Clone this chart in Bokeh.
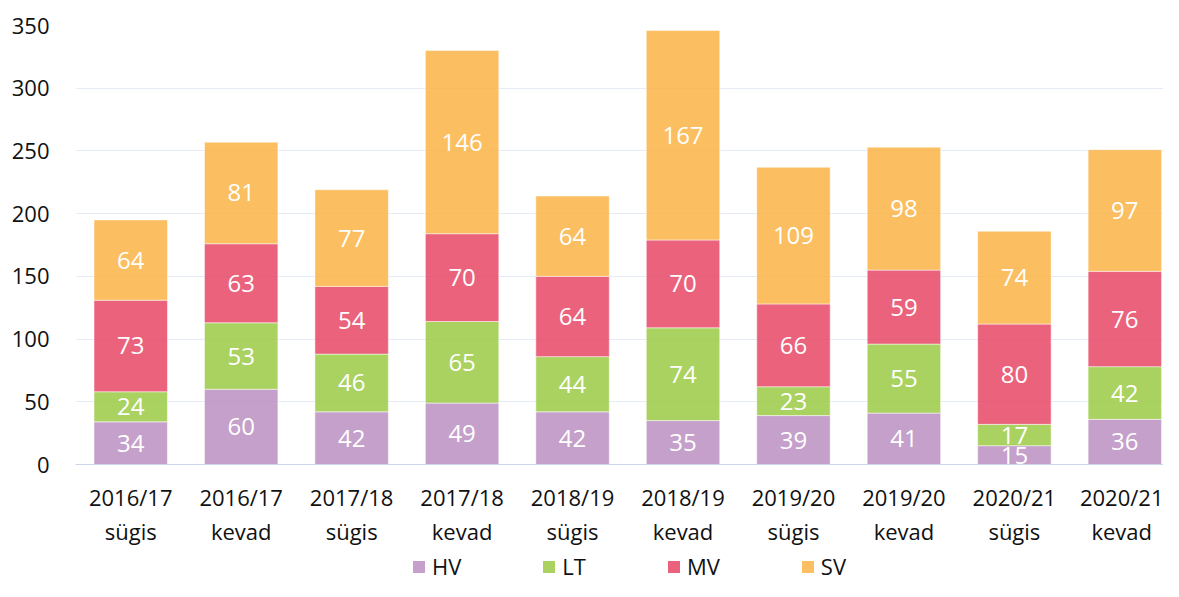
import numpy as np
from bokeh.plotting import figure
from bokeh.layouts import column
from bokeh.models import ColumnDataSource, FixedTicker, Legend, LegendItem, Range1d
from bokeh.core.properties import value
from bokeh.embed import file_html
from bokeh.resources import INLINE

categories = ["2016/17\nsügis", "2016/17\nkevad", "2017/18\nsügis", "2017/18\nkevad",
              "2018/19\nsügis", "2018/19\nkevad", "2019/20\nsügis", "2019/20\nkevad",
              "2020/21\nsügis", "2020/21\nkevad"]
series_names = ["HV", "LT", "MV", "SV"]
HV = [34, 60, 42, 49, 42, 35, 39, 41, 15, 36]
LT = [24, 53, 46, 65, 44, 74, 23, 55, 17, 42]
MV = [73, 63, 54, 70, 64, 70, 66, 59, 80, 76]
SV = [64, 81, 77, 146, 64, 167, 109, 98, 74, 97]
y_ticks = [0, 50, 100, 150, 200, 250, 300, 350]
colors = ["#bb8fc1", "#9bca44", "#e64665", "#fab344"]

FONT = "Open Sans"
x = list(range(len(categories)))
data = {"x": x, "HV": HV, "LT": LT, "MV": MV, "SV": SV}
src = ColumnDataSource(data)

p = figure(width=1163, height=552, output_backend="svg", toolbar_location=None,
           x_range=Range1d(-0.5, 9.35), y_range=Range1d(0, 350),
           min_border_left=75, min_border_right=0, min_border_top=25, min_border_bottom=88)
p.outline_line_color = None
p.background_fill_color = "white"

p.xgrid.grid_line_color = None
p.ygrid.grid_line_color = "#e6ecf6"
p.ygrid.level = "underlay"

renderers = p.vbar_stack(series_names, x="x", width=0.665, source=src, fill_color=colors,
                         fill_alpha=0.85, line_color="white", line_alpha=0.5, line_width=1)

# data labels in segment centers
vals = np.array([HV, LT, MV, SV], dtype=float)
tops = np.cumsum(vals, axis=0)
mids = tops - vals / 2
lx, ly, lt = [], [], []
for i in range(vals.shape[0]):
    for j in range(vals.shape[1]):
        lx.append(x[j]); ly.append(mids[i, j]); lt.append(str(int(vals[i, j])))
lsrc = ColumnDataSource(dict(x=lx, y=ly, t=lt))
p.text(x="x", y="y", text="t", source=lsrc, text_color="white", text_font=value(FONT),
       text_font_size="24px", text_align="center", text_baseline="middle")

# axes
p.xaxis.ticker = FixedTicker(ticks=x)
p.xaxis.major_label_overrides = {i: c for i, c in enumerate(categories)}
p.xaxis.major_label_text_font = FONT
p.xaxis.major_label_text_font_size = "22px"
p.xaxis.major_label_text_color = "#111111"
p.xaxis.major_label_text_line_height = 1.15
p.xaxis.major_label_standoff = 11
p.xaxis.axis_line_color = "#ccd6eb"
p.xaxis.major_tick_line_color = None
p.xaxis.minor_tick_line_color = None

p.yaxis.ticker = FixedTicker(ticks=y_ticks)
p.yaxis.major_label_text_font = FONT
p.yaxis.major_label_text_font_size = "22px"
p.yaxis.major_label_text_color = "#111111"
p.yaxis.major_label_standoff = 20
p.yaxis.axis_line_color = None
p.yaxis.major_tick_line_color = None
p.yaxis.minor_tick_line_color = None

# legend in a separate strip below the chart (frames are aligned by the column layout)
lg = figure(width=1163, height=29, output_backend="svg", toolbar_location=None,
            x_axis_location=None, y_axis_location=None,
            x_range=Range1d(0, 1), y_range=Range1d(0, 1),
            min_border_left=0, min_border_right=0, min_border_top=0, min_border_bottom=0)
lg.outline_line_color = None
lg.xgrid.grid_line_color = None
lg.ygrid.grid_line_color = None
blank = ColumnDataSource(dict(x=[float("nan")], top=[float("nan")]))
lg_rs = [lg.vbar(x="x", top="top", width=0.5, source=blank, fill_color=c, fill_alpha=0.85,
                 line_color=None) for c in colors]
legend = Legend(items=[LegendItem(label=n, renderers=[r]) for n, r in zip(series_names, lg_rs)],
                orientation="horizontal", location=(336, 0), spacing=80,
                glyph_width=15, glyph_height=15, label_standoff=6,
                label_text_font=FONT, label_text_font_size="22px", label_text_color="#111111",
                border_line_color=None, background_fill_alpha=0, padding=0, margin=0)
lg.add_layout(legend, "center")

layout = column(p, lg, spacing=0)
open("out.html", "w").write(file_html(layout, INLINE))
